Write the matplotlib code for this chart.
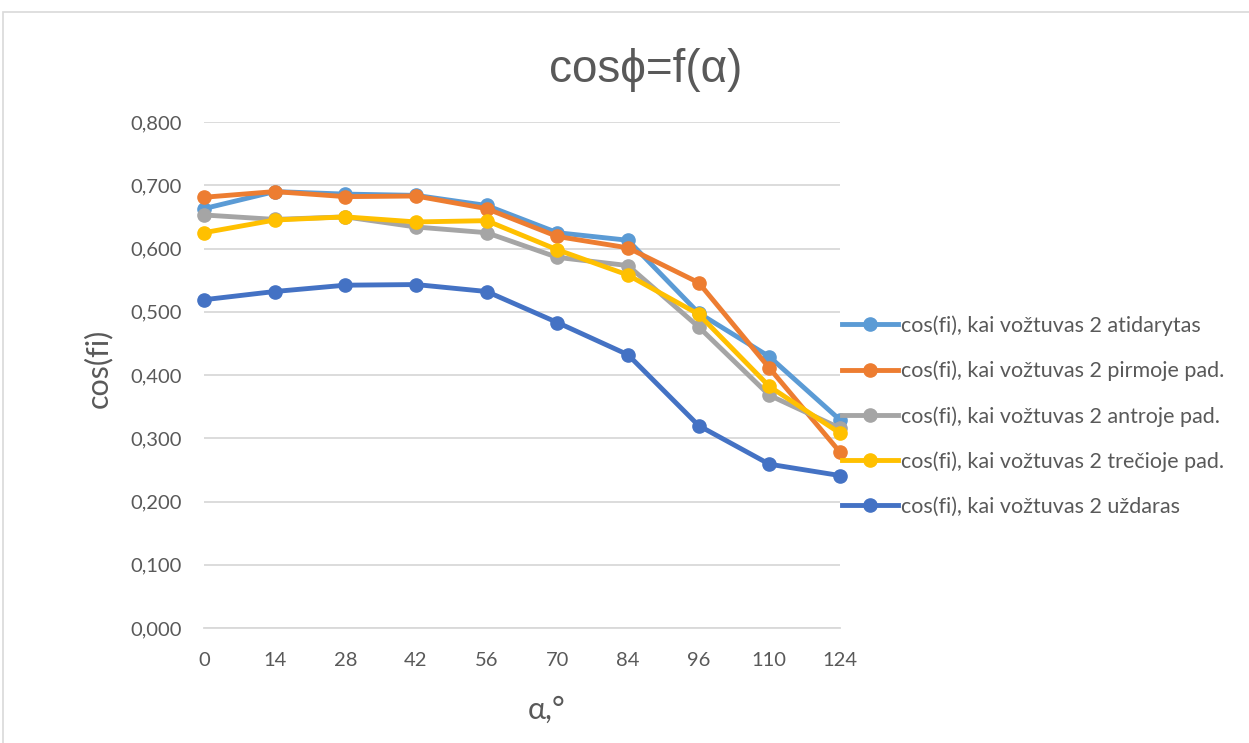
import matplotlib
matplotlib.use("Agg")
import matplotlib.pyplot as plt
from matplotlib.patches import Rectangle
from matplotlib.ticker import FuncFormatter

angles = ["0", "14", "28", "42", "56", "70", "84", "96", "110", "124"]

open_valve = [0.663, 0.690, 0.686, 0.684, 0.668, 0.625, 0.613, 0.498, 0.429, 0.329]
first_pos = [0.681, 0.690, 0.682, 0.683, 0.663, 0.619, 0.601, 0.546, 0.411, 0.278]
second_pos = [0.653, 0.646, 0.650, 0.634, 0.625, 0.586, 0.573, 0.476, 0.368, 0.316]
third_pos = [0.625, 0.645, 0.650, 0.642, 0.644, 0.598, 0.558, 0.496, 0.382, 0.308]
closed_valve = [0.519, 0.532, 0.542, 0.543, 0.532, 0.483, 0.432, 0.320, 0.259, 0.241]

labels = [
    "cos(fi), kai vožtuvas 2 atidarytas",
    "cos(fi), kai vožtuvas 2 pirmoje pad.",
    "cos(fi), kai vožtuvas 2 antroje pad.",
    "cos(fi), kai vožtuvas 2 trečioje pad.",
    "cos(fi), kai vožtuvas 2 uždaras",
]
colors = ["#5B9BD5", "#ED7D31", "#A5A5A5", "#FFC000", "#4472C4"]
series = [open_valve, first_pos, second_pos, third_pos, closed_valve]

plt.rcParams["font.family"] = ["Lato", "DejaVu Sans"]
text_color = "#595959"

fig = plt.figure(figsize=(12.49, 7.43), dpi=100)
fig.patch.set_facecolor("white")

# chart-area frame
fig.patches.append(Rectangle((3 / 1249, -0.05), 1.2, 1 - 12 / 743 + 0.05,
                             transform=fig.transFigure, fill=False,
                             edgecolor="#D9D9D9", linewidth=1.2))

ax = fig.add_axes([204 / 1249, 1 - 628 / 743, (840 - 204) / 1249, (628 - 122) / 743])

x = list(range(len(angles)))
handles = []
for vals, col, lab in zip(series, colors, labels):
    h, = ax.plot(x, vals, color=col, linewidth=3.5, marker="o", markersize=9.5,
                 markerfacecolor=col, markeredgecolor=col, label=lab,
                 solid_joinstyle="round", clip_on=False)
    handles.append(h)

ax.set_xlim(0, len(angles) - 1)
ax.set_ylim(0, 0.8)
ax.set_yticks([i / 10 for i in range(9)])
ax.yaxis.set_major_formatter(FuncFormatter(lambda v, p: f"{v:.3f}".replace(".", ",")))
ax.set_xticks(x)
ax.set_xticklabels(angles)
ax.grid(axis="y", color="#D9D9D9", linewidth=1.3)
ax.set_axisbelow(True)
for s in ["top", "right", "left"]:
    ax.spines[s].set_visible(False)
ax.spines["bottom"].set_color("#D9D9D9")
ax.spines["bottom"].set_linewidth(1.3)
ax.tick_params(axis="both", length=0, labelsize=14.5, colors=text_color)
ax.tick_params(axis="y", pad=16)
ax.tick_params(axis="x", pad=17)

fig.text(646 / 1249, 1 - 70 / 743, "cosϕ=f(α)", ha="center", va="center",
         fontsize=33, color=text_color, family=["Liberation Sans", "DejaVu Sans"])
fig.text(98 / 1249, 1 - 368 / 743, "cos(fi)", ha="center", va="center",
         rotation=90, fontsize=22, color=text_color)
fig.text(547 / 1249, 1 - 710 / 743, "α,°", ha="center", va="center",
         fontsize=22, color=text_color)

leg = fig.legend(handles=handles, labels=labels, loc="center left",
                 bbox_to_anchor=(833 / 1249, 1 - 416 / 743), frameon=False,
                 fontsize=15.5, labelcolor=text_color, handlelength=2.6,
                 handletextpad=0.15, labelspacing=1.15, borderaxespad=0)

fig.savefig("out.png", dpi=100, facecolor="white")
